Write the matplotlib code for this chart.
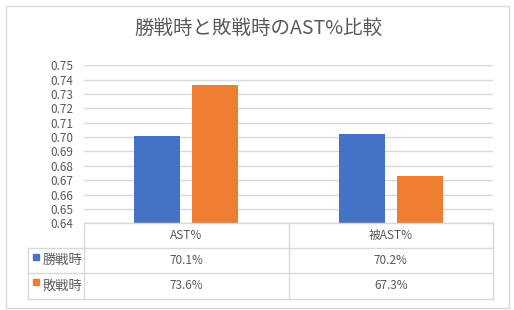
import matplotlib
matplotlib.use("Agg")
import matplotlib.pyplot as plt
import matplotlib.transforms as mtransforms
from matplotlib.patches import Rectangle
import numpy as np

plt.rcParams['font.family'] = ['Noto Sans CJK JP', 'DejaVu Sans']

# data
categories = ["AST%", "被AST%"]
series_names = ["勝戦時", "敗戦時"]
win_values = [0.701, 0.702]
loss_values = [0.736, 0.673]
y_ticks = [0.64, 0.65, 0.66, 0.67, 0.68, 0.69, 0.70, 0.71, 0.72, 0.73, 0.74, 0.75]
title = "勝戦時と敗戦時のAST%比較"

colors = ["#4472C4", "#ED7D31"]
grid_color = "#D9D9D9"
text_color = "#595959"

W, H = 514, 310
fig = plt.figure(figsize=(W / 100, H / 100), dpi=100)


def fx(px):
    return px / W


def fy(py):
    return 1 - py / H


# chart border
fig.patches.append(Rectangle((fx(5.5), fy(307.5)), fx(503.5), 302 / H,
                             transform=fig.transFigure, fill=False,
                             edgecolor=grid_color, linewidth=1.0))

fig.text(fx(258), fy(28), title, ha="center", va="center",
         fontsize=14, color=text_color)

plot_left, plot_right, plot_top, plot_bottom = 84, 493, 65.3, 223.3
ax = fig.add_axes([fx(plot_left), fy(plot_bottom),
                   fx(plot_right - plot_left), (plot_bottom - plot_top) / H])

x = np.arange(len(categories))
offset = 0.142
width = 0.225
ax.bar(x - offset, win_values, width, color=colors[0], zorder=3)
ax.bar(x + offset, loss_values, width, color=colors[1], zorder=3)

ax.set_xlim(-0.5, len(categories) - 0.5)
ax.set_ylim(y_ticks[0], y_ticks[-1])
ax.set_yticks(y_ticks)
ax.set_yticklabels([f"{t:.2f}" for t in y_ticks])
ax.set_xticks([])
ax.tick_params(axis="y", length=0, pad=8, labelsize=8.5, labelcolor=text_color)
ax.yaxis.grid(True, color=grid_color, linewidth=1.0, zorder=0)
for s in ax.spines.values():
    s.set_visible(False)

# data table below the plot, columns aligned with the categories
blend = mtransforms.blended_transform_factory(ax.transData, fig.transFigure)
rows_y = [223.3, 248.3, 273.3, 298.5]
legend_left = 28
line_kw = dict(color=grid_color, linewidth=1.0, clip_on=False)

# horizontal rules
fig.add_artist(plt.Line2D([fx(plot_left), fx(plot_right)], [fy(rows_y[0])] * 2,
                          transform=fig.transFigure, **line_kw))
for ry in rows_y[1:]:
    fig.add_artist(plt.Line2D([fx(legend_left), fx(plot_right)], [fy(ry)] * 2,
                              transform=fig.transFigure, **line_kw))
# vertical rules
fig.add_artist(plt.Line2D([fx(legend_left)] * 2, [fy(rows_y[1]), fy(rows_y[-1])],
                          transform=fig.transFigure, **line_kw))
for bx in np.arange(len(categories) + 1) - 0.5:
    fig.add_artist(plt.Line2D([bx, bx], [fy(rows_y[0]), fy(rows_y[-1])],
                              transform=blend, **line_kw))

row_mid = [(rows_y[i] + rows_y[i + 1]) / 2 for i in range(3)]
for i, cat in enumerate(categories):
    fig.text(i, fy(row_mid[0]), cat, transform=blend, ha="center", va="center",
             fontsize=8.5, color=text_color)
for r, vals in enumerate([win_values, loss_values]):
    for i, v in enumerate(vals):
        fig.text(i, fy(row_mid[r + 1]), f"{v * 100:.1f}%", transform=blend,
                 ha="center", va="center", fontsize=8.5, color=text_color)
    fig.patches.append(Rectangle((fx(33.3), fy(row_mid[r + 1] - 0.5)), fx(6), 6 / H,
                                 transform=fig.transFigure, color=colors[r]))
    fig.text(fx(42.5), fy(row_mid[r + 1]), series_names[r], ha="left", va="center",
             fontsize=9.5, color=text_color)

fig.savefig("out.png", dpi=100)
